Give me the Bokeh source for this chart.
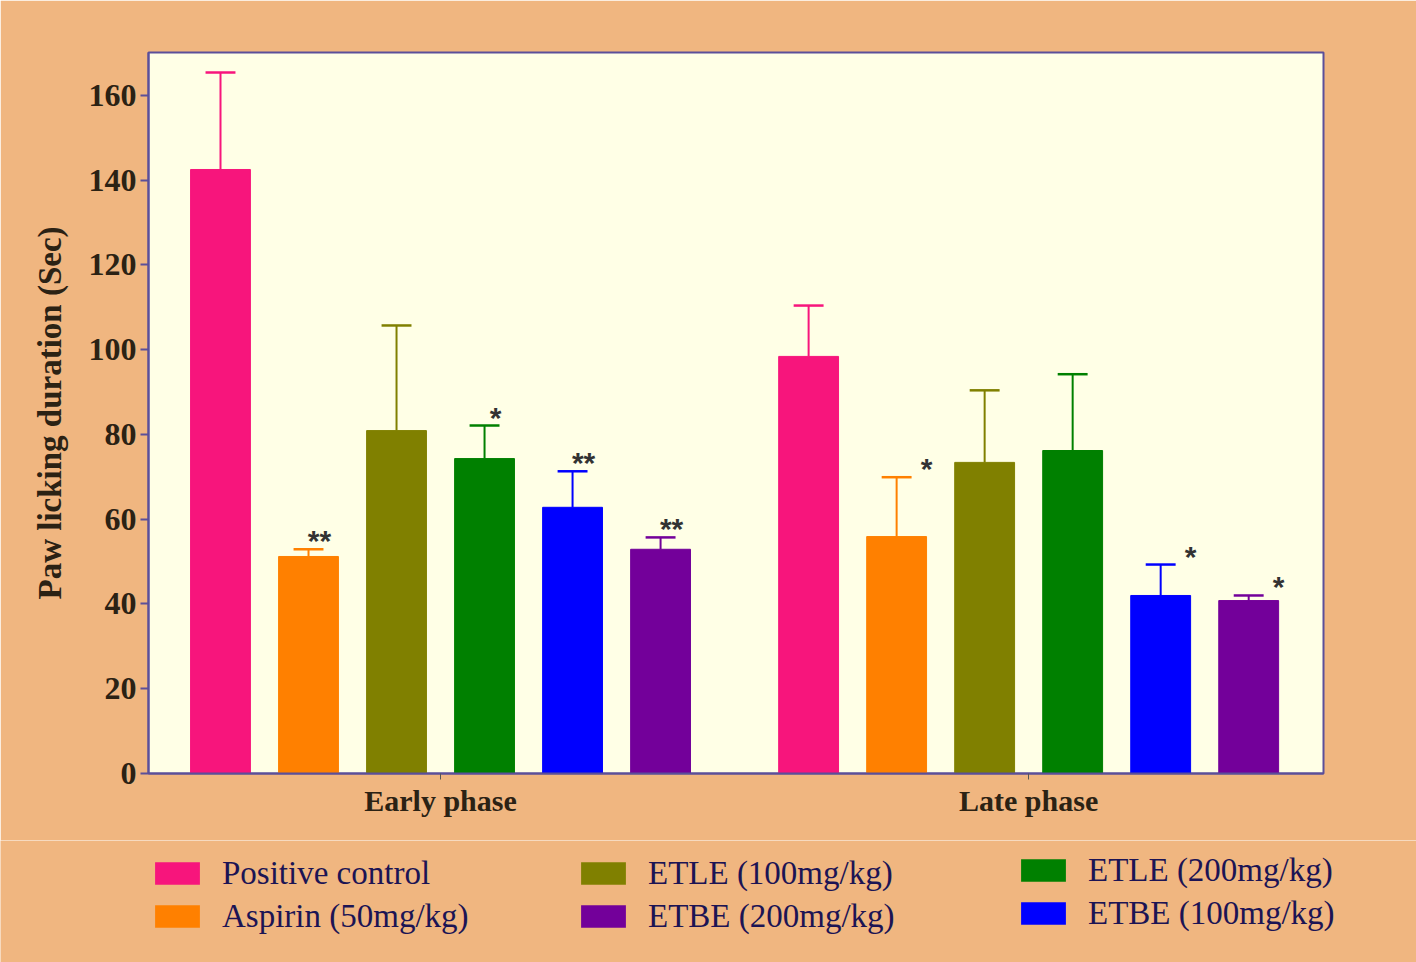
from bokeh.plotting import figure
from bokeh.layouts import column
from bokeh.models import Range1d, FixedTicker, Legend, LegendItem, ColumnDataSource
from bokeh.core.properties import value
from bokeh.embed import file_html
from bokeh.resources import INLINE

phases = ["Early phase", "Late phase"]
treatments = ["Positive control", "Aspirin (50mg/kg)", "ETLE (100mg/kg)",
              "ETLE (200mg/kg)", "ETBE (100mg/kg)", "ETBE (200mg/kg)"]
colors = ["#F7157C", "#FF8000", "#808000", "#008000", "#0000FF", "#73009A"]

early_mean = [142.5, 51.2, 80.9, 74.3, 62.8, 52.9]
early_err = [22.9, 1.7, 24.8, 7.8, 8.5, 2.8]
late_mean = [98.4, 55.9, 73.4, 76.2, 42.0, 40.8]
late_err = [12.0, 14.0, 17.0, 18.0, 7.3, 1.2]

early_sig = ["", "**", "", "*", "**", "**"]
late_sig = ["", "*", "", "", "*", "*"]

legend_cols = [["Positive control", "Aspirin (50mg/kg)"],
               ["ETLE (100mg/kg)", "ETBE (200mg/kg)"],
               ["ETLE (200mg/kg)", "ETBE (100mg/kg)"]]

# layout constants
group_start = [0.818, 7.5]
bar_w = 0.68
cap_w = 0.34
sig_dx = [11, 30]

BG = "#F0B680"
PLOT_BG = "#FFFFE6"
AX = "#5B4F99"
TXT = "#2B2214"
LEG_TXT = "#1C1454"
W = 1416

p = figure(width=W, height=840, output_backend="svg", toolbar_location=None,
           x_range=Range1d(0, 13.35), y_range=Range1d(0, 170.1),
           min_border_left=148, min_border_right=93, min_border_top=52, min_border_bottom=67)
p.frame_align = False
p.background_fill_color = PLOT_BG
p.border_fill_color = BG
p.outline_line_color = AX
p.outline_line_width = 2
p.grid.visible = False

means_all = [early_mean, late_mean]
errs_all = [early_err, late_err]
sigs_all = [early_sig, late_sig]

for g in range(2):
    xs = [group_start[g] + i for i in range(len(treatments))]
    tops = [m + e for m, e in zip(means_all[g], errs_all[g])]
    src = ColumnDataSource(dict(x=xs, top=means_all[g], etop=tops, color=colors,
                                x0=[x - cap_w / 2 for x in xs], x1=[x + cap_w / 2 for x in xs],
                                sig=sigs_all[g]))
    p.segment(x0="x", y0="top", x1="x", y1="etop", line_color="color", line_width=2, source=src)
    p.segment(x0="x0", y0="etop", x1="x1", y1="etop", line_color="color", line_width=2.5, source=src)
    p.vbar(x="x", top="top", bottom=0, width=bar_w, fill_color="color", line_color="color",
           line_width=1, source=src)
    p.text(x="x", y="etop", text="sig", source=src, x_offset=sig_dx[g], y_offset=8,
           text_align="center", text_baseline="bottom", text_color="#333333",
           text_font=value("Liberation Sans"), text_font_style="bold", text_font_size="30px")

# axes
p.yaxis.ticker = FixedTicker(ticks=list(range(0, 161, 20)))
p.yaxis.axis_label = "Paw licking duration (Sec)"
p.yaxis.axis_label_text_font = "Liberation Serif"
p.yaxis.axis_label_text_font_style = "bold"
p.yaxis.axis_label_text_font_size = "33px"
p.yaxis.axis_label_text_color = TXT
p.yaxis.axis_label_standoff = 18
p.yaxis.major_label_text_font = "Liberation Serif"
p.yaxis.major_label_text_font_style = "bold"
p.yaxis.major_label_text_font_size = "32px"
p.yaxis.major_label_text_color = TXT
p.yaxis.major_label_standoff = 4
p.yaxis.major_tick_in = 0
p.yaxis.major_tick_out = 8
p.yaxis.minor_tick_line_color = None

centers = [group_start[g] + (len(treatments) - 1) / 2 for g in range(2)]
p.xaxis.ticker = FixedTicker(ticks=centers)
p.xaxis.major_label_overrides = {c: ph for c, ph in zip(centers, phases)}
p.xaxis.major_label_text_font = "Liberation Serif"
p.xaxis.major_label_text_font_style = "bold"
p.xaxis.major_label_text_font_size = "30px"
p.xaxis.major_label_text_color = TXT
p.xaxis.major_label_standoff = 4
p.xaxis.major_tick_in = 0
p.xaxis.major_tick_out = 6
p.xaxis.major_tick_line_color = "#555555"
p.xaxis.minor_tick_line_color = None

for ax in (p.xaxis, p.yaxis):
    ax.axis_line_color = AX
    ax.axis_line_width = 2
p.yaxis.major_tick_line_color = AX
p.yaxis.major_tick_line_width = 2

# legend panel: three columns of two entries each
lf = figure(width=W, height=122, output_backend="svg", toolbar_location=None,
            x_range=Range1d(0, 1), y_range=Range1d(0, 1),
            min_border_left=0, min_border_right=0, min_border_top=0, min_border_bottom=0)
lf.frame_align = False
lf.axis.visible = False
lf.grid.visible = False
lf.outline_line_color = None
lf.background_fill_color = BG
lf.border_fill_color = BG

swatches = {}
for name, c in zip(treatments, colors):
    # zero-height stand-in glyph, only used to draw the legend swatch
    swatches[name] = lf.vbar(x=[0.5], top=[0], bottom=0, width=0.01, fill_color=c, line_color=c,
                             line_alpha=0)

legend_x = [149, 575, 1015]
legend_y = [27, 27, 30]
for col, lx, ly in zip(legend_cols, legend_x, legend_y):
    items = [LegendItem(label=name, renderers=[swatches[name]]) for name in col]
    leg = Legend(items=items, location=(lx, ly), orientation="vertical",
                 glyph_width=56, glyph_height=28, label_standoff=17, spacing=5,
                 padding=0, margin=0, border_line_color=None, background_fill_alpha=0,
                 label_text_font="Liberation Serif", label_text_font_size="33px",
                 label_text_color=LEG_TXT, label_height=38)
    lf.add_layout(leg, "center")

layout = column(p, lf, spacing=0)
open("out.html", "w").write(file_html(layout, INLINE))
